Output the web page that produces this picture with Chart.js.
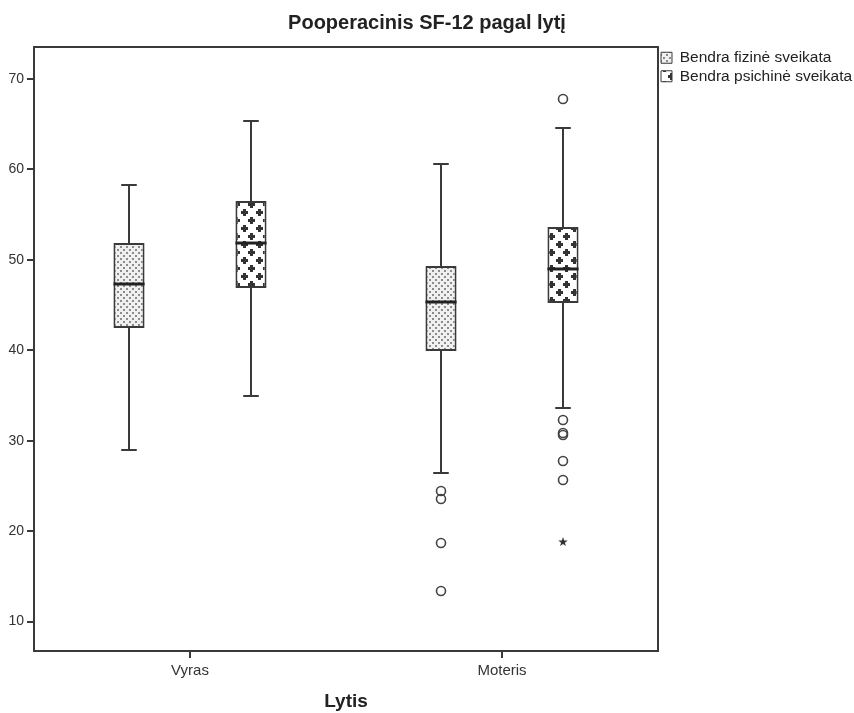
<!DOCTYPE html>
<html>
<head>
<meta charset="utf-8">
<script src="https://cdn.jsdelivr.net/npm/chart.js@4.4.1/dist/chart.umd.min.js"></script>
<style>
  html, body { margin: 0; padding: 0; background: #fff; }
  #wrap { width: 854px; height: 713px; }
</style>
</head>
<body>
<div id="wrap"><canvas id="chart-box"></canvas></div>
<script>
const CATEGORIES = ['Vyras', 'Moteris'];
const SERIES_NAMES = ['Bendra fizinė sveikata', 'Bendra psichinė sveikata'];
const Y_TICKS = [10, 20, 30, 40, 50, 60, 70];

// fizinė sveikata: whiskers, quartiles, median, outliers
const fizMin = [28.97, 26.43];
const fizQ1 = [42.46, 39.92];
const fizMedian = [47.33, 45.34];
const fizQ3 = [51.86, 49.32];
const fizMax = [58.28, 60.6];
const fizOutliers = [[], [24.43, 23.55, 18.68, 13.38]];
const fizExtremes = [[], []];

// psichinė sveikata
const psiMin = [34.94, 33.61];
const psiQ1 = [46.9, 45.23];
const psiMedian = [51.86, 48.99];
const psiQ3 = [56.51, 53.63];
const psiMax = [65.36, 64.58];
const psiOutliers = [[], [67.79, 32.29, 30.85, 30.63, 27.75, 25.65]];
const psiExtremes = [[], [18.79]];

const INK = '#3a3a3a';
const FONT = '"Liberation Sans", Arial, sans-serif';

function dotPattern() {
  const c = document.createElement('canvas');
  c.width = 6; c.height = 6;
  const g = c.getContext('2d');
  g.fillStyle = '#f0f0f0';
  g.fillRect(0, 0, 6, 6);
  g.fillStyle = '#8c8c8c';
  g.fillRect(0, 0, 2, 2);
  g.fillRect(3, 3, 2, 2);
  return g.createPattern(c, 'repeat');
}

function plusPattern() {
  const c = document.createElement('canvas');
  c.width = 15; c.height = 16;
  const g = c.getContext('2d');
  g.fillStyle = '#ffffff';
  g.fillRect(0, 0, 15, 16);
  g.fillStyle = '#333333';
  [[4, 4], [11, 12]].forEach(([cx, cy]) => {
    g.fillRect(cx - 3, cy - 1, 7, 3);
    g.fillRect(cx - 1, cy - 3, 3, 7);
  });
  return g.createPattern(c, 'repeat');
}

function boxDataset(label, q1, q3, lo, hi, med, outl, extr, fill) {
  return {
    label: label,
    data: q1.map((v, i) => [v, q3[i]]),
    whiskerLow: lo,
    whiskerHigh: hi,
    median: med,
    outliers: outl,
    extremes: extr,
    backgroundColor: fill,
    borderColor: INK,
    borderWidth: 2,
    borderSkipped: false,
    categoryPercentage: 0.782,
    barPercentage: 0.255
  };
}

// whiskers, medians, outliers and the frame round the plot
const boxPlotLines = {
  id: 'boxPlotLines',
  afterDatasetsDraw(chart) {
    const ctx = chart.ctx;
    const y = chart.scales.y;
    const area = chart.chartArea;
    ctx.save();
    ctx.strokeStyle = INK;
    ctx.lineWidth = 2;
    ctx.strokeRect(area.left, area.top, area.right - area.left, area.bottom - area.top);

    chart.data.datasets.forEach((ds, di) => {
      const meta = chart.getDatasetMeta(di);
      meta.data.forEach((bar, i) => {
        const x = Math.round(bar.x);
        const half = bar.width / 2;
        const cap = half / 2;
        const yQ1 = y.getPixelForValue(ds.data[i][0]);
        const yQ3 = y.getPixelForValue(ds.data[i][1]);
        const yLo = y.getPixelForValue(ds.whiskerLow[i]);
        const yHi = y.getPixelForValue(ds.whiskerHigh[i]);
        const yMed = y.getPixelForValue(ds.median[i]);

        ctx.strokeStyle = INK;
        ctx.lineWidth = 2;
        ctx.beginPath();
        ctx.moveTo(x, yQ3); ctx.lineTo(x, yHi);
        ctx.moveTo(x - cap, yHi); ctx.lineTo(x + cap, yHi);
        ctx.moveTo(x, yQ1); ctx.lineTo(x, yLo);
        ctx.moveTo(x - cap, yLo); ctx.lineTo(x + cap, yLo);
        ctx.stroke();

        ctx.lineWidth = 3;
        ctx.strokeStyle = '#222';
        ctx.beginPath();
        ctx.moveTo(x - half, yMed); ctx.lineTo(x + half, yMed);
        ctx.stroke();

        ctx.lineWidth = 1.6;
        ctx.strokeStyle = '#444';
        ds.outliers[i].forEach(v => {
          ctx.beginPath();
          ctx.arc(x, y.getPixelForValue(v), 4.5, 0, Math.PI * 2);
          ctx.stroke();
        });

        ctx.fillStyle = '#333';
        ds.extremes[i].forEach(v => {
          const cy = y.getPixelForValue(v);
          ctx.beginPath();
          for (let k = 0; k < 10; k++) {
            const r = k % 2 === 0 ? 5 : 2;
            const a = -Math.PI / 2 + k * Math.PI / 5;
            ctx.lineTo(x + r * Math.cos(a), cy + r * Math.sin(a));
          }
          ctx.closePath();
          ctx.fill();
        });
      });
    });
    ctx.restore();
  }
};

new Chart(document.getElementById('chart-box'), {
  type: 'bar',
  data: {
    labels: CATEGORIES,
    datasets: [
      boxDataset(SERIES_NAMES[0], fizQ1, fizQ3, fizMin, fizMax, fizMedian, fizOutliers, fizExtremes, dotPattern()),
      boxDataset(SERIES_NAMES[1], psiQ1, psiQ3, psiMin, psiMax, psiMedian, psiOutliers, psiExtremes, plusPattern())
    ]
  },
  options: {
    responsive: true,
    maintainAspectRatio: false,
    animation: false,
    layout: { padding: { left: 0, right: 0, top: 0, bottom: 0 } },
    plugins: {
      title: {
        display: true,
        text: 'Pooperacinis SF-12 pagal lytį',
        color: '#222',
        font: { family: FONT, size: 20, weight: 'bold', lineHeight: 1.2 },
        padding: { top: 11, bottom: 12 }
      },
      legend: {
        position: 'right',
        align: 'start',
        fullSize: false,
        maxWidth: 196,
        labels: {
          color: '#222',
          font: { family: FONT, size: 15.5 },
          boxWidth: 11,
          boxHeight: 11,
          padding: 3,
          generateLabels(chart) {
            return Chart.defaults.plugins.legend.labels.generateLabels(chart).map(l => {
              l.lineWidth = 1;
              return l;
            });
          }
        }
      },
      tooltip: { enabled: false }
    },
    scales: {
      x: {
        grid: { offset: false, drawOnChartArea: false, drawTicks: true, tickLength: 7, color: INK, lineWidth: 2 },
        border: { color: INK, width: 2 },
        ticks: { color: '#333', font: { family: FONT, size: 15 }, padding: 4 },
        title: {
          display: true,
          text: 'Lytis',
          color: '#222',
          font: { family: FONT, size: 19, weight: 'bold' },
          padding: { top: 4, bottom: 0 }
        },
        afterFit(scale) { scale.height = 62; }
      },
      y: {
        min: 6.74,
        max: 73.54,
        grid: { drawOnChartArea: false, drawTicks: true, tickLength: 7, color: INK, lineWidth: 2 },
        border: { color: INK, width: 2 },
        ticks: { color: '#333', font: { family: FONT, size: 14 }, padding: 3 },
        afterBuildTicks(scale) { scale.ticks = Y_TICKS.map(v => ({ value: v })); },
        afterFit(scale) { scale.width = 34; }
      }
    }
  },
  plugins: [boxPlotLines]
});
</script>
</body>
</html>
